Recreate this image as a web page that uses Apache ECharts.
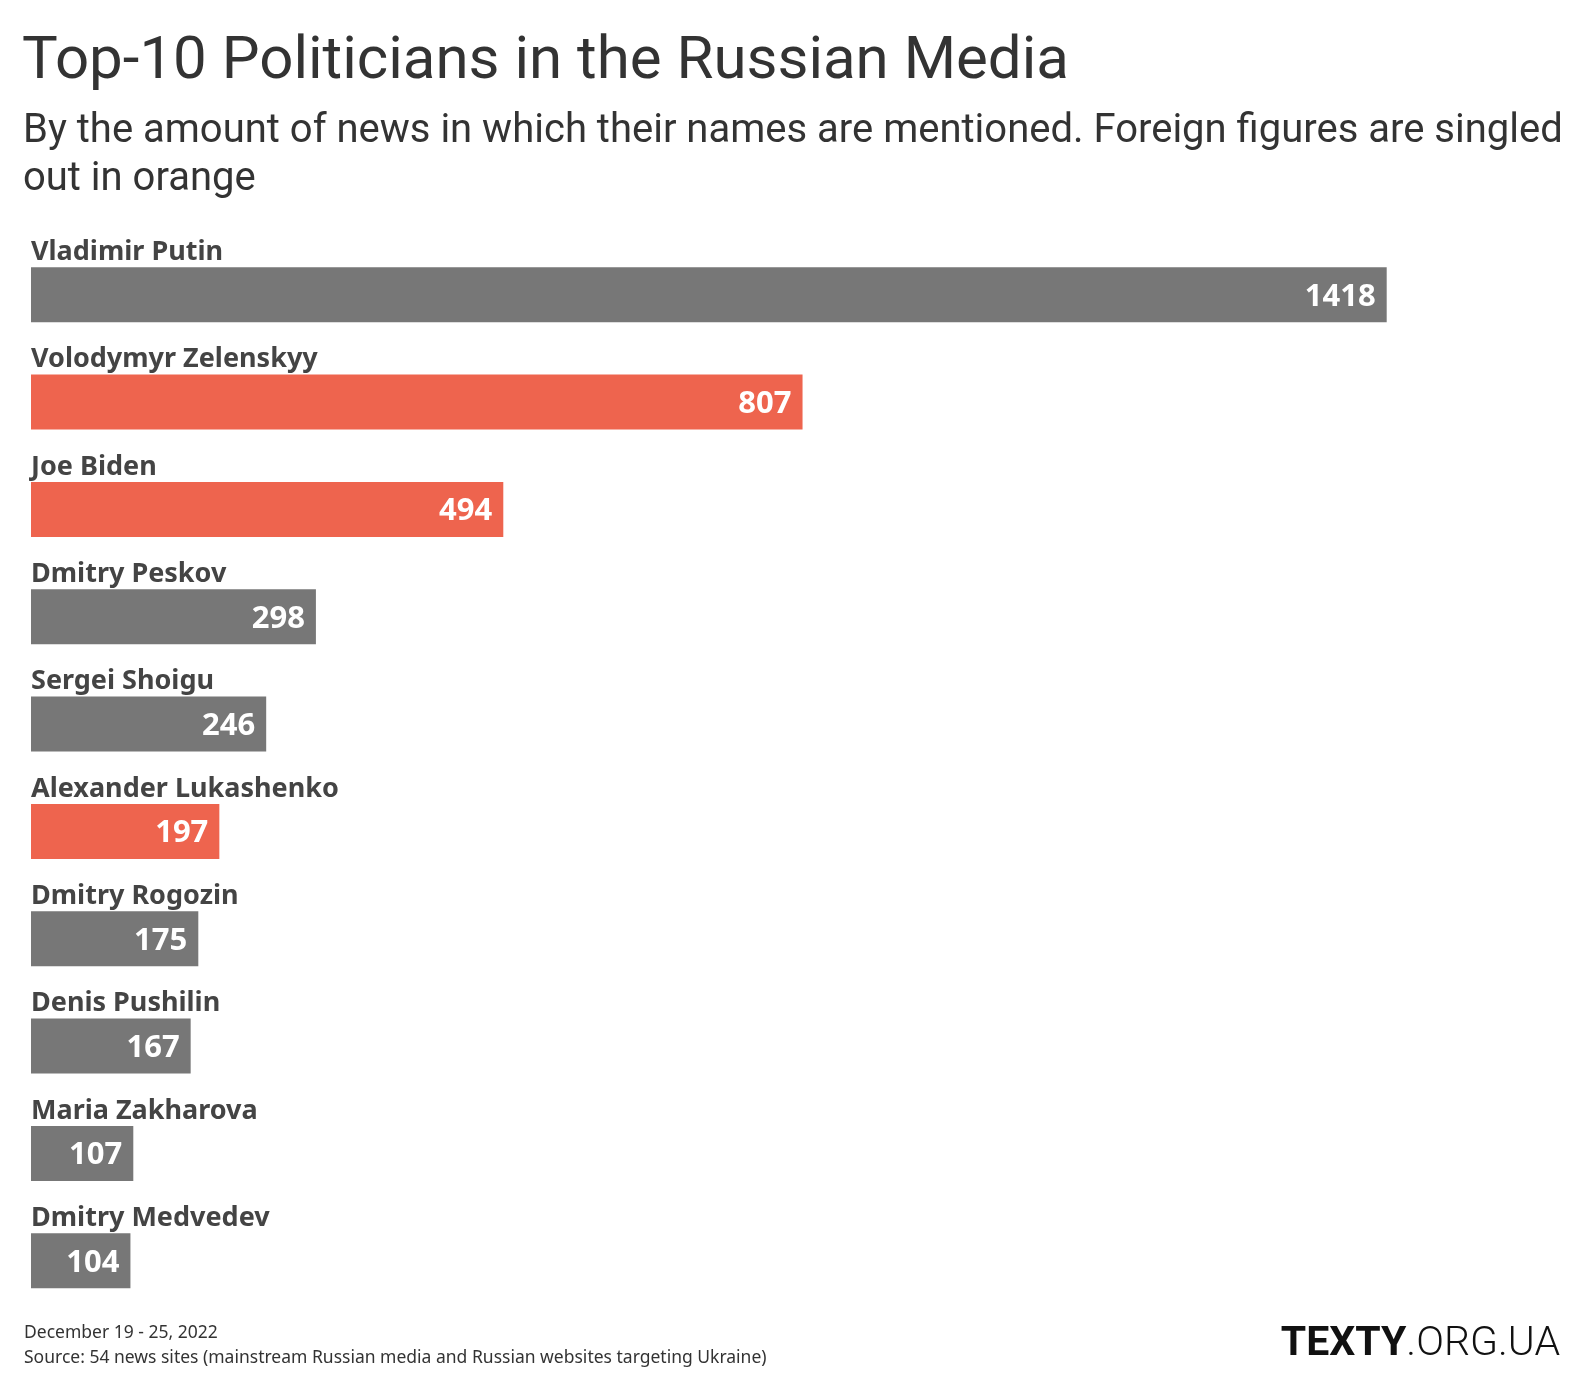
<!DOCTYPE html>
<html><head><meta charset="utf-8">
<script src="https://cdn.jsdelivr.net/npm/echarts@6/dist/echarts.min.js"></script>
<style>html,body{margin:0;padding:0;background:#fff}#c{width:1586px;height:1394px}</style>
</head><body><div id="c"></div>
<script>
const names = ["Vladimir Putin","Volodymyr Zelenskyy","Joe Biden","Dmitry Peskov","Sergei Shoigu","Alexander Lukashenko","Dmitry Rogozin","Denis Pushilin","Maria Zakharova","Dmitry Medvedev"];
const mentions = [1418,807,494,298,246,197,175,167,107,104];
const foreign = [false,true,true,false,false,true,false,false,false,false];
const titleText = "Top-10 Politicians in the Russian Media";
const subtitleText = "By the amount of news in which their names are mentioned. Foreign figures are singled\nout in orange";
const dateText = "December 19 - 25, 2022";
const sourceText = "Source: 54 news sites (mainstream Russian media and Russian websites targeting Ukraine)";

const GRAY = "#777777", ORANGE = "#EE644E";
const chart = echarts.init(document.getElementById('c'), null, {renderer:'canvas'});
chart.setOption({
  animation:false,
  backgroundColor:'#fff',
  title:[
    {text:titleText,left:22,top:31,padding:0,textStyle:{fontFamily:'Roboto',fontWeight:400,fontSize:60,lineHeight:64,color:'#333'}},
    {text:subtitleText,left:23,top:108,padding:0,textStyle:{fontFamily:'Roboto',fontWeight:400,fontSize:40,lineHeight:48,color:'#333'}},
    {text:dateText,left:24,top:1322,padding:0,textStyle:{fontFamily:'Noto Sans',fontWeight:400,fontSize:17.5,lineHeight:22,color:'#333'}},
    {text:sourceText,left:24,top:1347,padding:0,textStyle:{fontFamily:'Noto Sans',fontWeight:400,fontSize:17.5,lineHeight:22,color:'#333'}},
    {text:'{b|TEXTY}{l|.ORG.UA}',right:26,top:1324,padding:0,textStyle:{rich:{
      b:{fontFamily:'Roboto',fontWeight:700,fontSize:41,lineHeight:42,color:'#111'},
      l:{fontFamily:'Roboto',fontWeight:300,fontSize:41,lineHeight:42,color:'#111'}}}}
  ],
  grid:{left:31,right:199.3,top:241.1,height:1073.3,containLabel:false},
  xAxis:{type:'value',min:0,max:'dataMax',show:false},
  yAxis:{type:'category',data:names,inverse:true,show:false},
  series:[
    {type:'bar',barWidth:55,data:mentions.map((v,i)=>({value:v,itemStyle:{color:foreign[i]?ORANGE:GRAY}})),
     label:{show:true,position:'insideRight',distance:11,color:'#fff',fontFamily:'Noto Sans',fontWeight:700,fontSize:31,offset:[0,2]}},
    {type:'bar',barWidth:55,barGap:'-100%',data:mentions,itemStyle:{color:'rgba(0,0,0,0)'},silent:true,
     label:{show:true,position:[0,2],align:'left',verticalAlign:'bottom',formatter:'{b}',color:'#444',fontFamily:'Noto Sans',fontWeight:700,fontSize:27,lineHeight:34}}
  ]
});
</script></body></html>
